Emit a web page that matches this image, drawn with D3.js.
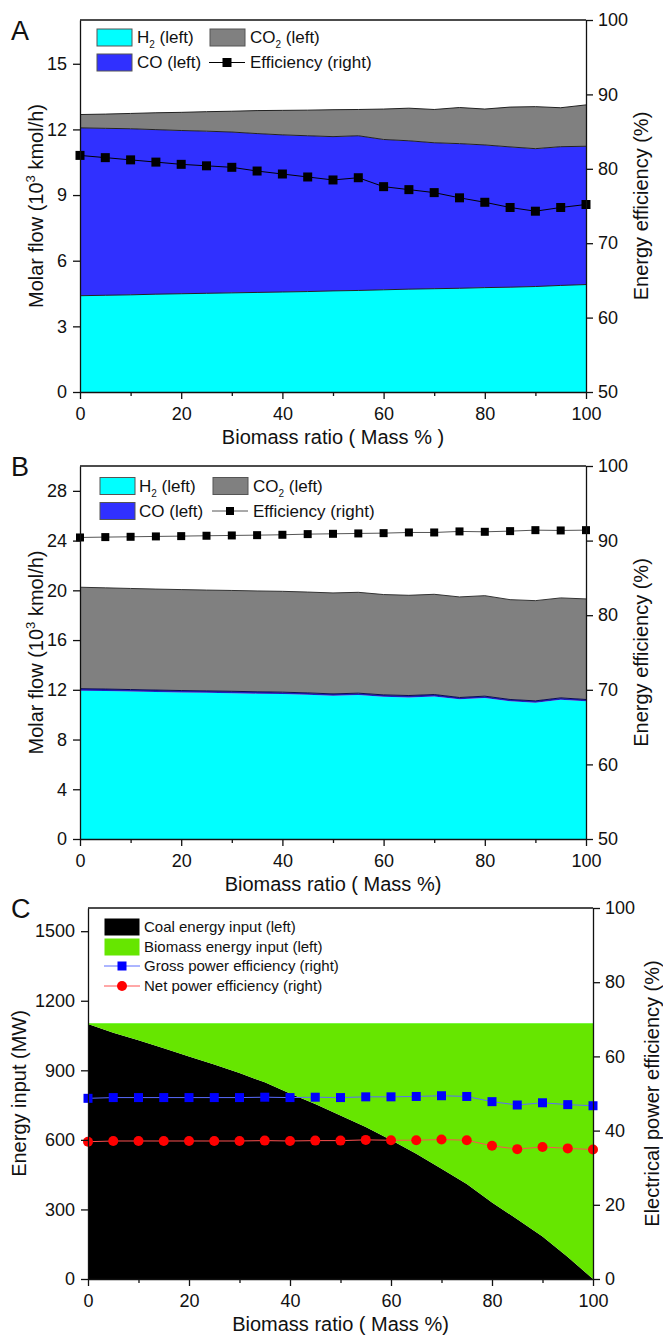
<!DOCTYPE html>
<html>
<head>
<meta charset="utf-8">
<script src="https://cdn.jsdelivr.net/npm/d3@7"></script>
<style>
  html, body { margin: 0; padding: 0; background: #fff; }
  svg { display: block; font-family: "Liberation Sans", Arial, sans-serif; }
</style>
</head>
<body>
<svg id="chart" width="663" height="1339"></svg>
<script>
// ---------------- DATA ----------------
const biomassRatio = [0,5,10,15,20,25,30,35,40,45,50,55,60,65,70,75,80,85,90,95,100];
const xTicks = [0,20,40,60,80,100];
const xMinorTicks = [10,30,50,70,90];

// Panel A (10^3 kmol/h and %)
const aH2  = [4.40,4.42,4.44,4.47,4.49,4.51,4.53,4.55,4.57,4.59,4.62,4.64,4.67,4.70,4.72,4.74,4.77,4.79,4.82,4.87,4.91];
const aCO  = [7.67,7.63,7.59,7.52,7.46,7.41,7.35,7.26,7.18,7.12,7.05,7.07,6.87,6.78,6.67,6.61,6.52,6.41,6.30,6.34,6.32];
const aCO2 = [0.61,0.65,0.70,0.77,0.83,0.89,0.95,1.05,1.12,1.17,1.23,1.20,1.39,1.49,1.52,1.65,1.64,1.82,1.92,1.78,1.89];
const aEff = [81.8,81.5,81.2,80.9,80.6,80.4,80.2,79.7,79.3,78.9,78.5,78.8,77.6,77.2,76.8,76.1,75.5,74.8,74.3,74.8,75.2];
const aLeftTicks = [0,3,6,9,12,15];
const aRightTicks = [50,60,70,80,90,100];

// Panel B
const bH2  = [11.93,11.90,11.86,11.83,11.79,11.76,11.73,11.69,11.66,11.60,11.52,11.58,11.44,11.39,11.47,11.23,11.34,11.07,10.96,11.20,11.07];
const bCO  = [0.16,0.16,0.16,0.15,0.15,0.15,0.15,0.15,0.15,0.15,0.15,0.15,0.15,0.15,0.15,0.15,0.15,0.15,0.15,0.15,0.15];
const bCO2 = [8.16,8.14,8.13,8.12,8.12,8.11,8.11,8.11,8.11,8.11,8.12,8.11,8.07,8.06,8.06,8.09,8.08,8.03,8.06,8.04,8.09];
const bEff = [90.42,90.47,90.51,90.56,90.60,90.65,90.69,90.73,90.78,90.87,90.91,90.96,91.00,91.09,91.09,91.23,91.18,91.27,91.40,91.36,91.40];
const bLeftTicks = [0,4,8,12,16,20,24,28];
const bRightTicks = [50,60,70,80,90,100];

// Panel C (MW and %)
const cCoal    = [1100,1062,1030,995,960,925,888,848,800,755,705,655,600,540,475,410,330,258,183,95,0];
const cBiomass = [0,38,70,105,140,175,212,252,300,345,395,445,500,560,625,690,770,842,917,1005,1100];
const cGross   = [48.7,48.9,48.9,48.9,48.9,48.9,48.9,49.0,48.9,49.0,48.9,49.1,49.1,49.2,49.4,49.2,47.8,46.9,47.5,47.0,46.7];
const cNet     = [37.0,37.2,37.2,37.2,37.2,37.2,37.2,37.3,37.2,37.3,37.3,37.5,37.4,37.4,37.6,37.4,35.9,35.0,35.6,35.2,34.9];
const cLeftTicks = [0,300,600,900,1200,1500];
const cRightTicks = [0,20,40,60,80,100];

// ---------------- DRAWING ----------------
const svg = d3.select("#chart");
const FONT_TICK = 18, FONT_TITLE = 20;
const fmt = d3.format("d");

function panel(cfg) {
  const g = svg.append("g");
  const x = d3.scaleLinear().domain([0,100]).range([cfg.x0, cfg.x1]);
  const yL = d3.scaleLinear().domain(cfg.leftDomain).range([cfg.y1, cfg.y0]);
  const yR = d3.scaleLinear().domain(cfg.rightDomain).range([cfg.y1, cfg.y0]);

  // stacked areas
  const rows = biomassRatio.map((b, i) => {
    const r = {b};
    cfg.areas.forEach(a => r[a.key] = a.values[i]);
    return r;
  });
  const stack = d3.stack().keys(cfg.areas.map(a => a.key))(rows);
  const area = d3.area().x(d => x(d.data.b)).y0(d => yL(d[0])).y1(d => yL(d[1]));
  const topLine = d3.line().x(d => x(d.data.b)).y(d => yL(d[1]));
  stack.forEach((s, i) => {
    const a = cfg.areas[i];
    g.append("path").attr("d", area(s)).attr("fill", a.color).attr("stroke", "none");
  });
  stack.forEach((s, i) => {
    const a = cfg.areas[i];
    if (a.edge) g.append("path").attr("d", topLine(s)).attr("fill", "none")
      .attr("stroke", a.edge).attr("stroke-width", a.edgeWidth || 1);
  });

  // lines with markers (right axis)
  cfg.lines.forEach(l => {
    const line = d3.line().x((d,i) => x(biomassRatio[i])).y(d => yR(d));
    g.append("path").attr("d", line(l.values)).attr("fill", "none")
      .attr("stroke", l.lineColor).attr("stroke-width", 1);
    l.values.forEach((v, i) => {
      if (l.marker === "square") {
        g.append("rect").attr("x", x(biomassRatio[i]) - l.size/2).attr("y", yR(v) - l.size/2)
          .attr("width", l.size).attr("height", l.size).attr("fill", l.color);
      } else {
        g.append("circle").attr("cx", x(biomassRatio[i])).attr("cy", yR(v))
          .attr("r", l.size/2).attr("fill", l.color);
      }
    });
  });

  // axes
  const axL = d3.axisLeft(yL).tickValues(cfg.leftTicks).tickFormat(fmt).tickSize(7).tickPadding(6).tickSizeOuter(0);
  const axR = d3.axisRight(yR).tickValues(cfg.rightTicks).tickFormat(fmt).tickSize(7).tickPadding(5).tickSizeOuter(0);
  const axB = d3.axisBottom(x).tickValues(xTicks).tickFormat(fmt).tickSize(7).tickPadding(8).tickSizeOuter(0);
  const axBm = d3.axisBottom(x).tickValues(xMinorTicks).tickSize(4).tickFormat("").tickSizeOuter(0);
  const gl = g.append("g").attr("transform", `translate(${cfg.x0},0)`).call(axL);
  const gr = g.append("g").attr("transform", `translate(${cfg.x1},0)`).call(axR);
  const gb = g.append("g").attr("transform", `translate(0,${cfg.y1})`).call(axB);
  const gbm = g.append("g").attr("transform", `translate(0,${cfg.y1})`).call(axBm);
  gbm.select(".domain").remove();
  [gl, gr, gb, gbm].forEach(a => {
    a.selectAll("text").attr("font-size", FONT_TICK).attr("font-family", "Liberation Sans, Arial, sans-serif").attr("fill", "#111");
    a.selectAll("line").attr("stroke", "#111").attr("stroke-width", 1.3);
    a.select(".domain").attr("stroke", "#111").attr("stroke-width", 1.3);
  });
  // top frame
  g.append("line").attr("x1", cfg.x0).attr("x2", cfg.x1).attr("y1", cfg.y0).attr("y2", cfg.y0)
    .attr("stroke", "#111").attr("stroke-width", 1.3);

  // titles
  const cy = (cfg.y0 + cfg.y1) / 2;
  g.append("text").attr("x", (cfg.x0 + cfg.x1)/2).attr("y", cfg.y1 + 52)
    .attr("text-anchor", "middle").attr("font-size", FONT_TITLE).attr("fill", "#111").text(cfg.xTitle);
  const lt = g.append("text").attr("transform", `translate(${cfg.leftTitleX},${cy}) rotate(-90)`)
    .attr("text-anchor", "middle").attr("dy", "0.35em").attr("font-size", FONT_TITLE).attr("fill", "#111");
  cfg.leftTitle(lt);
  g.append("text").attr("transform", `translate(${cfg.rightTitleX},${cy}) rotate(-90)`)
    .attr("text-anchor", "middle").attr("dy", "0.35em").attr("font-size", FONT_TITLE).attr("fill", "#111")
    .text(cfg.rightTitle);
  // panel letter
  g.append("text").attr("x", 11).attr("y", cfg.letterY).attr("font-size", 27).attr("fill", "#111").text(cfg.letter);

  // legend
  cfg.legend.forEach(it => {
    if (it.type === "swatch") {
      g.append("rect").attr("x", it.x).attr("y", it.y - it.h/2).attr("width", it.w).attr("height", it.h)
        .attr("fill", it.color).attr("stroke", it.stroke || "#555").attr("stroke-width", 1);
    } else {
      g.append("line").attr("x1", it.x).attr("x2", it.x + it.w).attr("y1", it.y).attr("y2", it.y)
        .attr("stroke", it.lineColor).attr("stroke-width", 1);
      if (it.marker === "square") {
        g.append("rect").attr("x", it.x + it.w/2 - it.size/2).attr("y", it.y - it.size/2)
          .attr("width", it.size).attr("height", it.size).attr("fill", it.color);
      } else {
        g.append("circle").attr("cx", it.x + it.w/2).attr("cy", it.y).attr("r", it.size/2).attr("fill", it.color);
      }
    }
    const t = g.append("text").attr("x", it.tx).attr("y", it.y).attr("dy", "0.35em")
      .attr("font-size", it.fs).attr("fill", "#111");
    it.label(t);
  });
}

function sub(t, a, s, b) {
  t.append("tspan").text(a);
  t.append("tspan").attr("font-size", 10).attr("dy", 5).text(s);
  t.append("tspan").attr("dy", -5).text(b);
}
function plain(s) { return t => t.text(s); }
function molarTitle(t) {
  t.append("tspan").text("Molar flow (10");
  t.append("tspan").attr("font-size", 13).attr("dy", -8).text("3");
  t.append("tspan").attr("dy", 8).text(" kmol/h)");
}

const CYAN = "#00FFFF", BLUE = "#3030FF", GRAY = "#808080", GREEN = "#66E600";

// Panel A
panel({
  letter: "A", letterY: 40,
  x0: 80, x1: 586, y0: 20, y1: 392,
  leftDomain: [0, 17], rightDomain: [50, 100],
  leftTicks: aLeftTicks, rightTicks: aRightTicks,
  areas: [
    {key: "H2", values: aH2, color: CYAN, edge: "#222", edgeWidth: 1},
    {key: "CO", values: aCO, color: BLUE, edge: "#222", edgeWidth: 1},
    {key: "CO2", values: aCO2, color: GRAY, edge: "#222", edgeWidth: 1}
  ],
  lines: [{values: aEff, marker: "square", size: 9, color: "#000", lineColor: "#000"}],
  xTitle: "Biomass ratio ( Mass % )",
  leftTitle: molarTitle, leftTitleX: 36,
  rightTitle: "Energy efficiency (%)", rightTitleX: 641,
  legend: [
    {type: "swatch", x: 97, y: 37.5, w: 35, h: 17, color: CYAN, tx: 137, fs: 17, label: t => sub(t, "H", "2", " (left)")},
    {type: "swatch", x: 97, y: 62.5, w: 35, h: 17, color: BLUE, tx: 137, fs: 17, label: plain("CO (left)")},
    {type: "swatch", x: 210, y: 37.5, w: 35, h: 17, color: GRAY, tx: 250, fs: 17, label: t => sub(t, "CO", "2", " (left)")},
    {type: "line", x: 209, y: 62.5, w: 36, marker: "square", size: 9, color: "#000", lineColor: "#000", tx: 250, fs: 17, label: plain("Efficiency (right)")}
  ]
});

// Panel B
panel({
  letter: "B", letterY: 476,
  x0: 80, x1: 586, y0: 466, y1: 839,
  leftDomain: [0, 30], rightDomain: [50, 100],
  leftTicks: bLeftTicks, rightTicks: bRightTicks,
  areas: [
    {key: "H2", values: bH2, color: CYAN, edge: null},
    {key: "CO", values: bCO, color: "#2020c0", edge: "#0a0a50", edgeWidth: 1},
    {key: "CO2", values: bCO2, color: GRAY, edge: "#333", edgeWidth: 1}
  ],
  lines: [{values: bEff, marker: "square", size: 8, color: "#000", lineColor: "#555"}],
  xTitle: "Biomass ratio ( Mass %)",
  leftTitle: molarTitle, leftTitleX: 36,
  rightTitle: "Energy efficiency (%)", rightTitleX: 641,
  legend: [
    {type: "swatch", x: 100, y: 486, w: 35, h: 17, color: CYAN, tx: 139, fs: 17, label: t => sub(t, "H", "2", " (left)")},
    {type: "swatch", x: 100, y: 511, w: 35, h: 17, color: BLUE, tx: 139, fs: 17, label: plain("CO (left)")},
    {type: "swatch", x: 213, y: 486, w: 35, h: 17, color: GRAY, tx: 253, fs: 17, label: t => sub(t, "CO", "2", " (left)")},
    {type: "line", x: 212, y: 511, w: 36, marker: "square", size: 8, color: "#000", lineColor: "#555", tx: 253, fs: 17, label: plain("Efficiency (right)")}
  ]
});

// Panel C
panel({
  letter: "C", letterY: 918,
  x0: 88, x1: 593, y0: 908, y1: 1279,
  leftDomain: [0, 1600], rightDomain: [0, 100],
  leftTicks: cLeftTicks, rightTicks: cRightTicks,
  areas: [
    {key: "Coal", values: cCoal, color: "#000000", edge: null},
    {key: "Biomass", values: cBiomass, color: GREEN, edge: "#55f000", edgeWidth: 1.5}
  ],
  lines: [
    {values: cGross, marker: "square", size: 9, color: "#0000FF", lineColor: "#5a6cff"},
    {values: cNet, marker: "circle", size: 10, color: "#FF0000", lineColor: "#ff5050"}
  ],
  xTitle: "Biomass ratio ( Mass %)",
  leftTitle: t => t.text("Energy input (MW)"), leftTitleX: 19,
  rightTitle: "Electrical power efficiency (%)", rightTitleX: 652,
  legend: [
    {type: "swatch", x: 105, y: 927, w: 34, h: 16, color: "#000", stroke: "#000", tx: 144, fs: 15, label: plain("Coal energy input (left)")},
    {type: "swatch", x: 105, y: 947, w: 34, h: 16, color: GREEN, stroke: GREEN, tx: 144, fs: 15, label: plain("Biomass energy input (left)")},
    {type: "line", x: 104, y: 966, w: 36, marker: "square", size: 9, color: "#0000FF", lineColor: "#5a6cff", tx: 144, fs: 15, label: plain("Gross power efficiency (right)")},
    {type: "line", x: 104, y: 986, w: 36, marker: "circle", size: 10, color: "#FF0000", lineColor: "#ff5050", tx: 144, fs: 15, label: plain("Net power efficiency (right)")}
  ]
});
</script>
</body>
</html>
